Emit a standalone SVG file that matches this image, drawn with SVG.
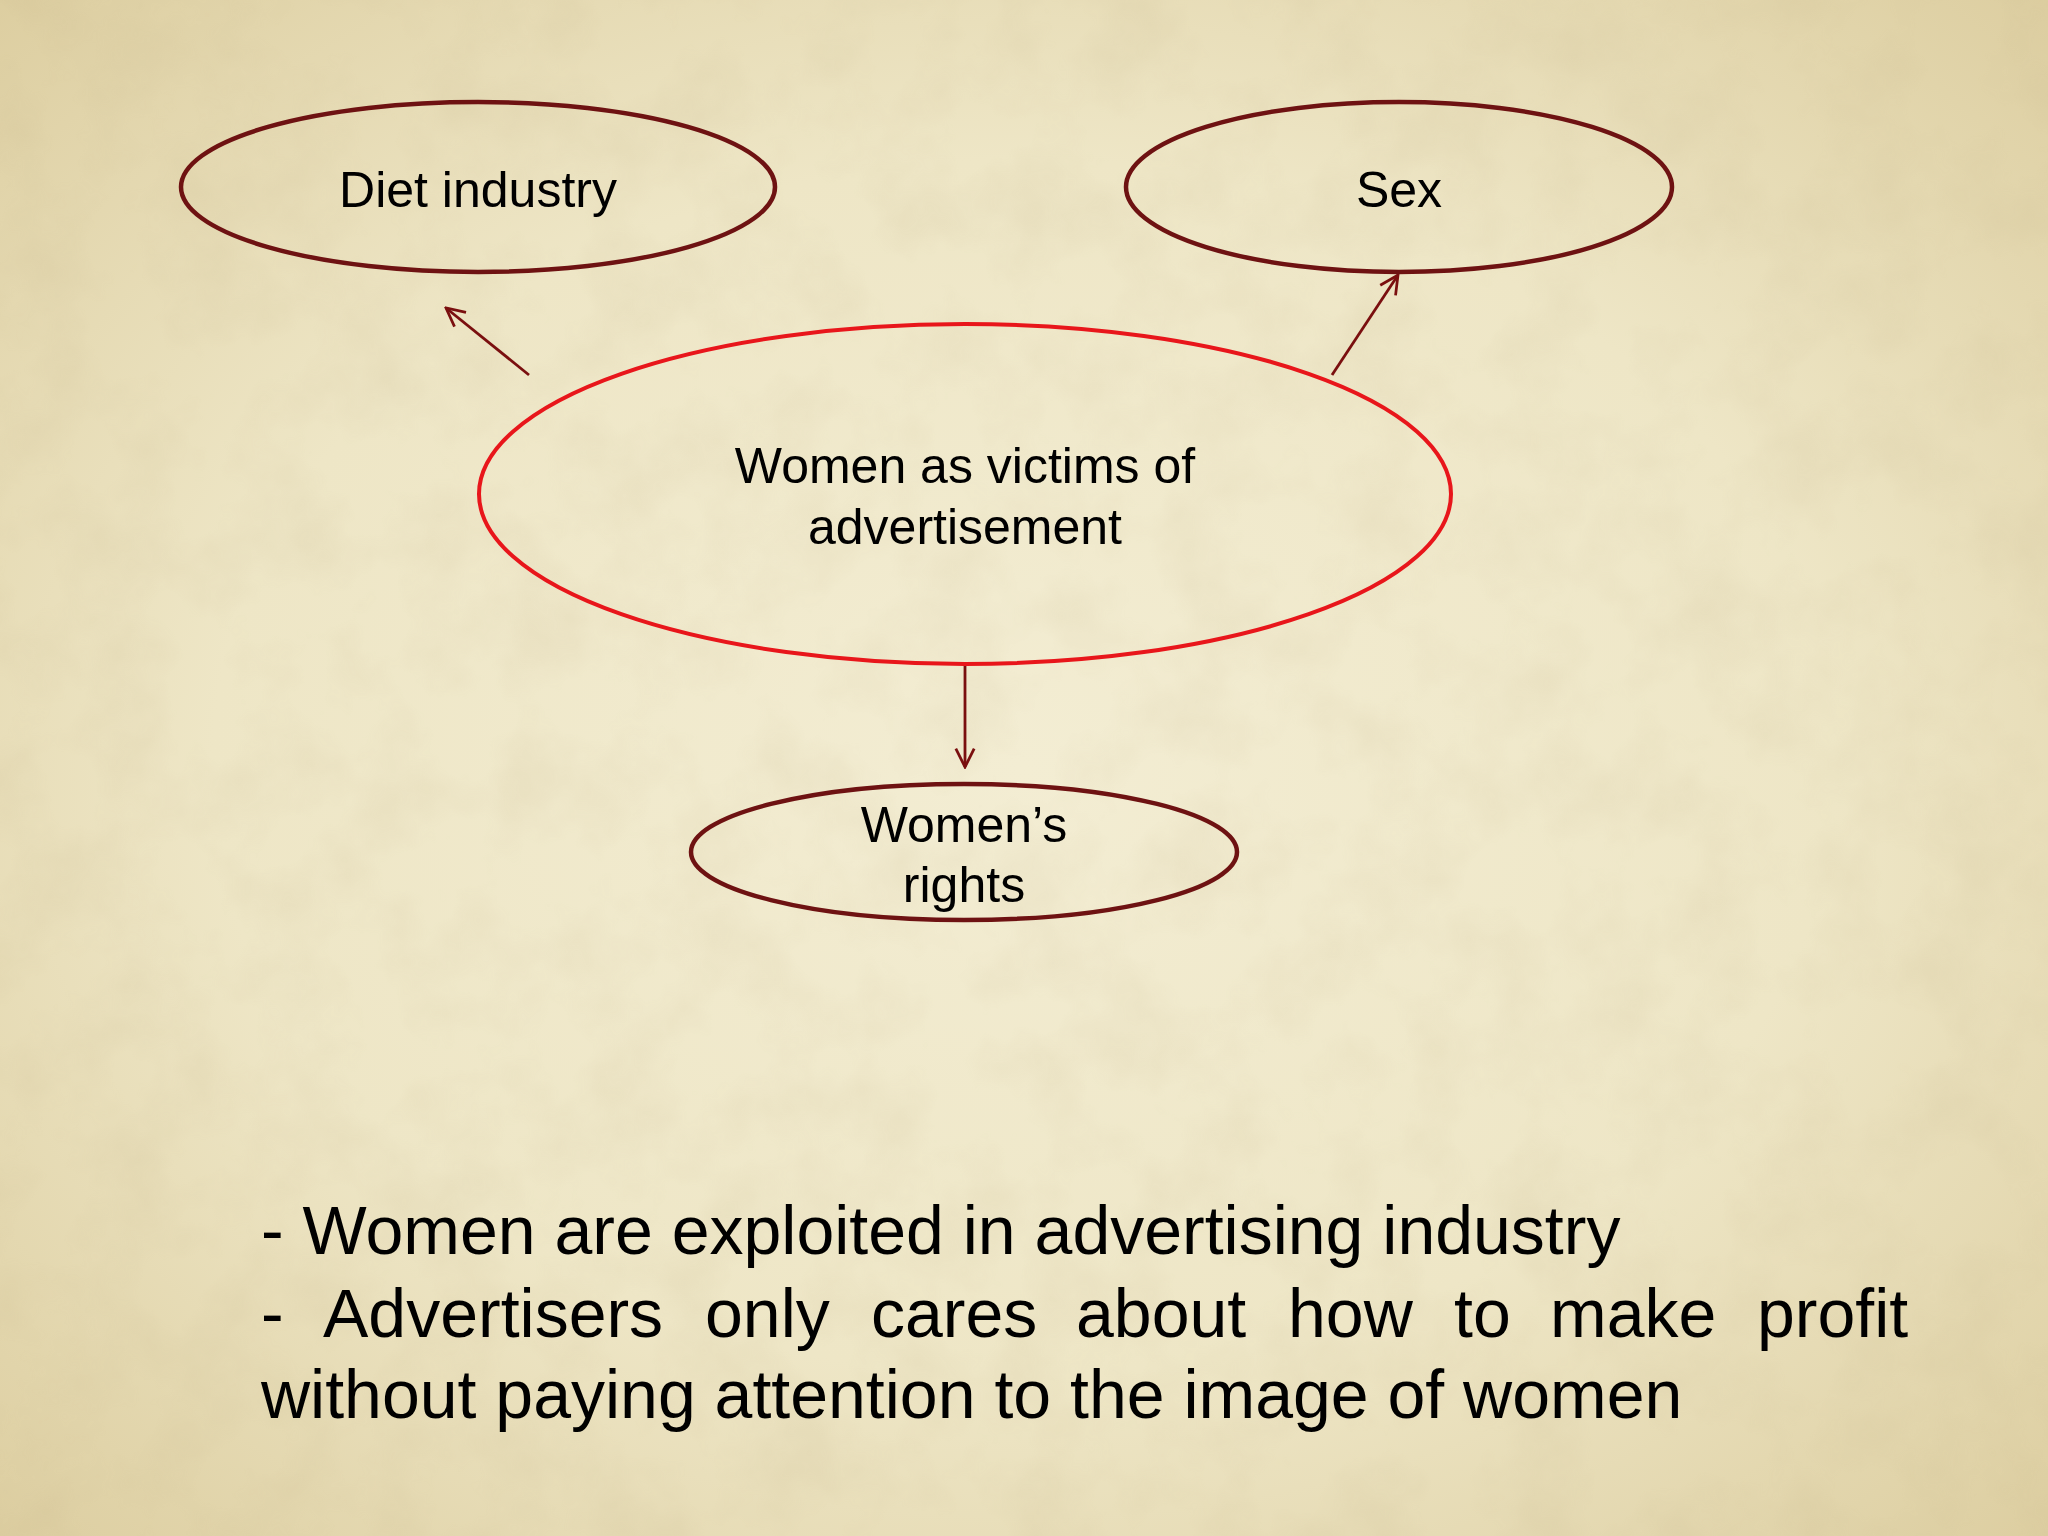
<svg xmlns="http://www.w3.org/2000/svg" width="2048" height="1536" viewBox="0 0 2048 1536">
  <defs>
    <radialGradient id="paper" cx="50%" cy="50%" r="72%">
      <stop offset="0" stop-color="#f3edd3"/>
      <stop offset="0.55" stop-color="#eee6c6"/>
      <stop offset="1" stop-color="#dccd9f"/>
    </radialGradient>
    <filter id="grain" x="0" y="0" width="100%" height="100%">
      <feTurbulence type="fractalNoise" baseFrequency="0.012" numOctaves="4" seed="7" result="n"/>
      <feColorMatrix type="matrix" values="0 0 0 0 0.55  0 0 0 0 0.45  0 0 0 0 0.25  0 0 0 0.9 -0.35"/>
    </filter>
    <marker id="arrow" viewBox="0 0 12 12" refX="11" refY="6" markerWidth="22" markerHeight="22" markerUnits="userSpaceOnUse" orient="auto">
      <path d="M1,1 L11,6 L1,11" fill="none" stroke="#7a0f0f" stroke-width="1.5"/>
    </marker>
    <style>
      .node { fill: none; stroke: #6e1212; stroke-width: 4.5; }
      .main { fill: none; stroke: #e8161b; stroke-width: 4; }
      .label { font-family: "Liberation Sans", Arial, sans-serif; font-size: 50px; fill: #000; text-anchor: middle; }
      .body { font-family: "Liberation Sans", Arial, sans-serif; font-size: 68px; fill: #000; }
      .conn { stroke: #7a0f0f; stroke-width: 2.8; fill: none; }
    </style>
  </defs>

  <rect x="0" y="0" width="2048" height="1536" fill="url(#paper)"/>
  <rect x="0" y="0" width="2048" height="1536" filter="url(#grain)" opacity="0.3"/>

  <g id="connectors">
    <line class="conn" x1="529" y1="375" x2="446" y2="308" marker-end="url(#arrow)"/>
    <line class="conn" x1="1332" y1="375" x2="1398" y2="275" marker-end="url(#arrow)"/>
    <line class="conn" x1="965" y1="665" x2="965" y2="767" marker-end="url(#arrow)"/>
  </g>

  <g id="node-diet">
    <ellipse class="node" cx="478" cy="187" rx="297" ry="85"/>
    <text class="label" x="478" y="207">Diet industry</text>
  </g>

  <g id="node-sex">
    <ellipse class="node" cx="1399" cy="187" rx="273" ry="85"/>
    <text class="label" x="1399" y="207">Sex</text>
  </g>

  <g id="node-center">
    <ellipse class="main" cx="965" cy="494" rx="486" ry="170"/>
    <text class="label" x="965" y="483">Women as victims of</text>
    <text class="label" x="965" y="544">advertisement</text>
  </g>

  <g id="node-rights">
    <ellipse class="node" cx="964" cy="852" rx="273" ry="68"/>
    <text class="label" x="964" y="842">Women’s</text>
    <text class="label" x="964" y="902">rights</text>
  </g>

  <g id="notes">
    <text class="body" x="261" y="1254">- Women are exploited in advertising industry</text>
    <text class="body" y="1337"><tspan x="261">-</tspan><tspan x="323">Advertisers</tspan><tspan x="705">only</tspan><tspan x="871">cares</tspan><tspan x="1076">about</tspan><tspan x="1288">how</tspan><tspan x="1454">to</tspan><tspan x="1550">make</tspan><tspan x="1757">profit</tspan></text>
    <text class="body" x="261" y="1418">without paying attention to the image of women</text>
  </g>
</svg>
